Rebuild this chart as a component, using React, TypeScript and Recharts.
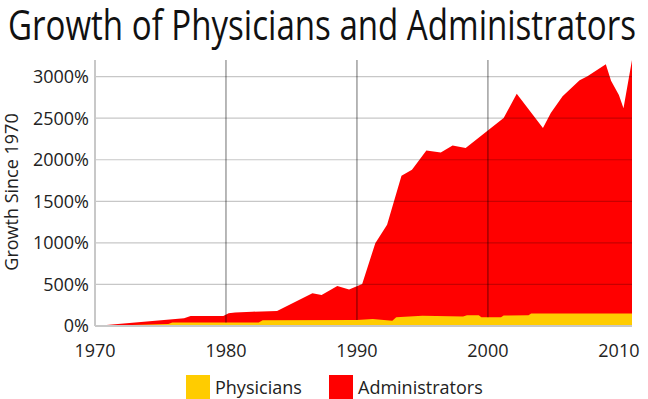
import React from 'react';
import { AreaChart, Area, XAxis, YAxis, ReferenceLine } from 'recharts';

// Administrators growth since 1970 (%)
const adminYears = [1970, 1976.8, 1977.3, 1979.8, 1980.2, 1980.7, 1982, 1983.9, 1986.6, 1987.3, 1988.5, 1989.4, 1990.4, 1991.4, 1992.3, 1993.4, 1994.2, 1995.3, 1996.4, 1997.3, 1998.3, 2001.2, 2002.2, 2004.2, 2004.8, 2005.7, 2007.0, 2007.6, 2009.0, 2009.4, 2010.0, 2010.35, 2011];
const adminValues = [0, 93, 120, 120, 153, 162, 172, 180, 394, 373, 482, 440, 505, 996, 1217, 1807, 1880, 2112, 2088, 2172, 2141, 2502, 2795, 2381, 2562, 2763, 2955, 3004, 3150, 2950, 2780, 2620, 3200];

// Physicians growth since 1970 (%)
const physYears = [1970, 1975.6, 1975.9, 1982.5, 1982.8, 1990.0, 1991.2, 1992.7, 1993.0, 1995.0, 1998.1, 1998.4, 1999.3, 1999.5, 2001.0, 2001.2, 2003.1, 2003.3, 2011];
const physValues = [0, 25, 42, 42, 70, 72, 84, 62, 105, 124, 114, 128, 128, 105, 105, 125, 128, 150, 150];

const xTicks = [1970, 1980, 1990, 2000, 2010];
const yTicks = [0, 500, 1000, 1500, 2000, 2500, 3000];
const verticalGrid = [1980, 1990, 2000];
const yMax = 3200;

const seriesNames = ['Physicians', 'Administrators'];
const seriesColors = ['#ffcc00', '#ff0000'];

const adminData = adminYears.map((year, i) => ({ year, value: adminValues[i] }));
const physData = physYears.map((year, i) => ({ year, value: physValues[i] }));

// physicians value at a given year (linear between read points), so vertical grid lines stop at the yellow area
function physAt(year: number): number {
  for (let i = 1; i < physYears.length; i++) {
    if (year <= physYears[i]) {
      const t = (year - physYears[i - 1]) / (physYears[i] - physYears[i - 1]);
      return physValues[i - 1] + t * (physValues[i] - physValues[i - 1]);
    }
  }
  return physValues[physValues.length - 1];
}

const FONT = '"Open Sans", sans-serif';
const tickStyle = { fontSize: 18, fill: '#222', fontFamily: FONT };
const TITLE_STRETCH = 1.25;

export default function App() {
  return (
    <div style={{ position: 'absolute', left: 0, top: 0, width: 648, height: 399, background: '#fff', fontFamily: FONT }}>
      <AreaChart width={648} height={399} margin={{ top: 60, right: 16, bottom: 33, left: 0 }}>
        <XAxis
          dataKey="year"
          type="number"
          domain={[1970, 2011]}
          ticks={xTicks}
          allowDataOverflow
          height={40}
          tickLine={false}
          tickSize={0}
          tickMargin={18}
          axisLine={{ stroke: '#c8c8c8', strokeWidth: 2 }}
          tick={tickStyle}
        />
        <YAxis
          type="number"
          domain={[0, yMax]}
          ticks={yTicks}
          allowDataOverflow
          width={95}
          tickLine={false}
          tickSize={0}
          tickMargin={6}
          axisLine={{ stroke: '#c8c8c8', strokeWidth: 2 }}
          tick={tickStyle}
          tickFormatter={(v: number) => `${v}%`}
        />
        <Area
          data={adminData}
          dataKey="value"
          name="Administrators"
          type="linear"
          stroke="none"
          fill={seriesColors[1]}
          fillOpacity={1}
          isAnimationActive={false}
        />
        <Area
          data={physData}
          dataKey="value"
          name="Physicians"
          type="linear"
          stroke="none"
          fill={seriesColors[0]}
          fillOpacity={1}
          isAnimationActive={false}
        />
        {yTicks.slice(1).map((v) => (
          <ReferenceLine key={'h' + v} y={v} stroke="rgba(0,0,0,0.22)" strokeWidth={1.2} />
        ))}
        {verticalGrid.map((v) => (
          <ReferenceLine
            key={'v' + v}
            segment={[{ x: v, y: physAt(v) }, { x: v, y: yMax }]}
            stroke="rgba(0,0,0,0.47)"
            strokeWidth={1.2}
          />
        ))}
      </AreaChart>
      <svg width={648} height={399} style={{ position: 'absolute', left: 0, top: 0, pointerEvents: 'none' }}>
        <g transform={`translate(8 40) scale(1 ${TITLE_STRETCH})`}>
          <text x={0} y={0} fontSize={33} fill="#111" fontFamily={FONT} textLength={628} lengthAdjust="spacingAndGlyphs">
            Growth of Physicians and Administrators
          </text>
        </g>
        <text
          x={11}
          y={192}
          fontSize={18}
          fill="#222"
          fontFamily={FONT}
          textAnchor="middle"
          dominantBaseline="central"
          transform="rotate(-90 11 192)"
        >
          Growth Since 1970
        </text>
      </svg>
      {seriesNames.map((name, i) => (
        <div key={name} style={{ position: 'absolute', left: i === 0 ? 186 : 329, top: 375, height: 24, display: 'flex', alignItems: 'center' }}>
          <div style={{ width: 24, height: 24, background: seriesColors[i] }} />
          <span style={{ marginLeft: 5, fontSize: 18, color: '#222', lineHeight: '24px' }}>{name}</span>
        </div>
      ))}
    </div>
  );
}
